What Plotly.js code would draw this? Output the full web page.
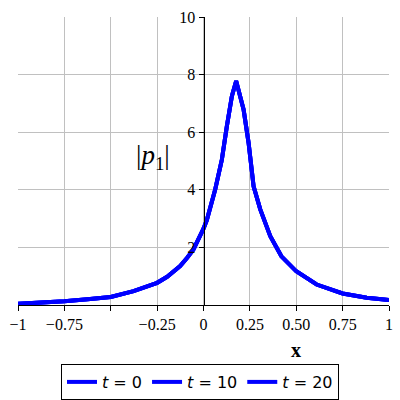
<html lang="en">
  <head>
    <meta charset="UTF-8" />
    <script src="https://cdn.plot.ly/plotly-3.0.1.min.js"></script>
    <title>|p1| vs x</title>
    <style>
      body { margin: 0; background: #fff; }
    </style>
  </head>
  <body>
    <div id="chart" style="width:400px; height:400px;"></div>
    <script>
      // values (all three t curves overlap)
      const xs = [-1, -0.875, -0.75, -0.625, -0.5, -0.377, -0.25, -0.196, -0.126, -0.088, -0.054, 0,
                  0.018, 0.063, 0.099, 0.126, 0.153, 0.176, 0.216, 0.243, 0.27, 0.306, 0.36,
                  0.42, 0.5, 0.61, 0.75, 0.88, 1];
      const p1 = [0.04, 0.08, 0.13, 0.2, 0.28, 0.48, 0.77, 0.98, 1.35, 1.64, 1.93, 2.65,
                  2.95, 4.01, 5.05, 6.21, 7.25, 7.78, 6.79, 5.63, 4.12, 3.32, 2.39,
                  1.69, 1.17, 0.71, 0.40, 0.25, 0.17];
      const times = [0, 10, 20];

      const xTickVals = [-1, -0.75, -0.5, -0.25, 0, 0.25, 0.5, 0.75, 1];
      const xTickText = ['\u22121', '\u22120.75', '', '\u22120.25', '0', '0.25', '0.50', '0.75', '1'];
      const yTickVals = [2, 4, 6, 8, 10];

      const serif = 'Liberation Serif, Times New Roman, serif';

      const traces = times.map(t => ({
        x: xs,
        y: p1,
        type: 'scatter',
        mode: 'lines',
        name: '<i>t</i> = ' + t,
        line: { color: '#0000ff', width: 4 }
      }));

      const layout = {
        width: 400,
        height: 400,
        margin: { l: 18, r: 11, t: 17, b: 95 },
        paper_bgcolor: '#fff',
        plot_bgcolor: '#fff',
        showlegend: true,
        legend: {
          orientation: 'h',
          xref: 'container', yref: 'container',
          x: 0.5, xanchor: 'center',
          y: 0.09, yanchor: 'top',
          bordercolor: '#000', borderwidth: 1,
          font: { family: 'DejaVu Sans, sans-serif', size: 16, color: '#000' },
          itemwidth: 30
        },
        xaxis: {
          range: [-1, 1],
          tickvals: xTickVals,
          ticktext: xTickText,
          ticks: 'outside', ticklen: 5, tickcolor: '#000',
          showline: true, linecolor: '#000', linewidth: 1,
          showgrid: true, gridcolor: '#c0c0c0', gridwidth: 1,
          zeroline: false,
          tickfont: { family: serif, size: 16, color: '#000' },
          fixedrange: true
        },
        yaxis: {
          range: [0, 10],
          tickvals: yTickVals,
          anchor: 'free', position: 0.5,
          ticks: 'outside', ticklen: 5, tickcolor: '#000',
          showline: true, linecolor: '#000', linewidth: 1,
          showgrid: true, gridcolor: '#c0c0c0', gridwidth: 1,
          zeroline: false,
          tickfont: { family: serif, size: 16, color: '#000' },
          fixedrange: true
        },
        annotations: [
          {
            text: '|<i>p</i><sub>1</sub>|',
            xref: 'paper', yref: 'paper',
            x: 0.365, y: 0.515, xanchor: 'center', yanchor: 'middle',
            showarrow: false,
            font: { family: serif, size: 27, color: '#000' }
          },
          {
            text: '<b>x</b>',
            xref: 'paper', yref: 'paper',
            x: 0.75, y: -0.155, xanchor: 'center', yanchor: 'middle',
            showarrow: false,
            font: { family: serif, size: 20, color: '#000' }
          }
        ]
      };

      Plotly.newPlot('chart', traces, layout, { displayModeBar: false, staticPlot: true });
    </script>
  </body>
</html>
